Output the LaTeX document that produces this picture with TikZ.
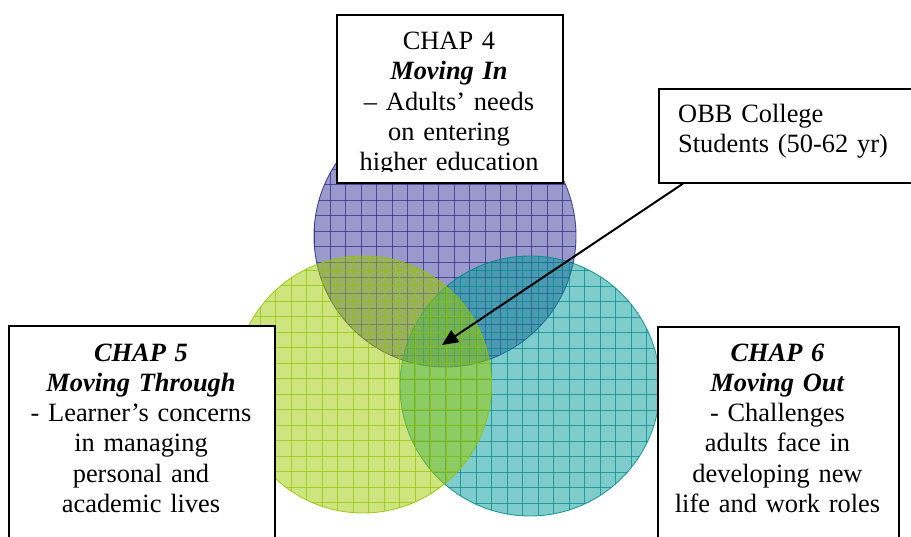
\documentclass[tikz,border=0pt]{standalone}
\usepackage{fontspec}
\setmainfont{Liberation Serif}
\usetikzlibrary{arrows.meta,calc}
\definecolor{topbase}{RGB}{51,51,153}
\definecolor{topline}{RGB}{40,40,130}
\definecolor{grnbase}{RGB}{157,203,0}
\definecolor{grnline}{RGB}{145,195,0}
\definecolor{tealbase}{RGB}{0,153,153}
\definecolor{tealline}{RGB}{0,135,135}
\begin{document}
\begin{tikzpicture}[x=1pt,y=-1pt,
  box/.style={draw=black,line width=1.6pt,fill=white,inner sep=0pt,anchor=north west},
  txt/.style={font=\fontsize{26.4}{30.3}\selectfont,align=center,inner sep=0pt,anchor=base},
  gridline/.style={line width=0.8pt,opacity=0.7},
  edge/.style={line width=0.9pt},
  arrowline/.style={line width=2pt,-{Triangle[length=16pt,width=14pt]}}]
\useasboundingbox (0,0) rectangle (911,536);

% top circle
\begin{scope}
  \clip (445,236) circle[radius=131pt];
  \fill[topbase,opacity=0.5] (445,236) circle[radius=131pt];
  \foreach \k in {-9,...,9} {
    \draw[topline,gridline] (438.5+\k*15.5,90) -- (438.5+\k*15.5,380);
    \draw[topline,gridline] (300,231+\k*15.5) -- (590,231+\k*15.5);
  }
\end{scope}
\draw[topline,edge,opacity=0.8] (445,236) circle[radius=131pt];

% teal circle
\begin{scope}
  \clip (530,386) circle[radius=130pt];
  \fill[tealbase,opacity=0.5] (530,386) circle[radius=130pt];
  \foreach \k in {-9,...,9} {
    \draw[tealline,gridline] (538.3+\k*15.5,240) -- (538.3+\k*15.5,530);
    \draw[tealline,gridline] (390,379.3+\k*15.5) -- (680,379.3+\k*15.5);
  }
\end{scope}
\draw[tealline,edge,opacity=0.8] (530,386) circle[radius=130pt];

% green circle
\begin{scope}
  \clip (363,384.5) circle[radius=128.5pt];
  \fill[grnbase,opacity=0.5] (363,384.5) circle[radius=128.5pt];
  \foreach \k in {-9,...,9} {
    \draw[grnline,gridline] (353+\k*15.5,240) -- (353+\k*15.5,530);
    \draw[grnline,gridline] (220,378.5+\k*15.5) -- (510,378.5+\k*15.5);
  }
\end{scope}
\draw[grnline,edge,opacity=0.8] (363,384.5) circle[radius=128.5pt];

% top box (CHAP 4)
\node[box,minimum width=226pt,minimum height=168pt] (ch4) at (336,14) {};
\begin{scope}
  \clip (336,14) rectangle (562,171);
  \node[txt,text width=224pt] (ch4t) at (449,49.5)
    {CHAP 4\\\textbf{\textit{Moving In}}\\– Adults’ needs\\on entering\\higher education};
\end{scope}

% left box (CHAP 5)
\node[box,minimum width=266pt,minimum height=240pt] (ch5) at (8,325) {};
\node[txt,text width=262pt] (ch5t) at (141,361)
  {\textbf{\textit{CHAP 5}}\\\textbf{\textit{Moving Through}}\\- Learner’s concerns\\in managing\\personal and\\academic lives};

% right box (CHAP 6)
\node[box,minimum width=241pt,minimum height=240pt] (ch6) at (657,326) {};
\node[txt,text width=238pt] (ch6t) at (777.5,361)
  {\textbf{\textit{CHAP 6}}\\\textbf{\textit{Moving Out}}\\- Challenges\\adults face in\\developing new\\life and work roles};

% OBB box
\node[box,minimum width=270pt,minimum height=94pt] (obb) at (658,88) {};
\node[txt,align=left,anchor=base west,text width=230pt] (obbt) at (678,122)
  {OBB College\\Students (50-62 yr)};

% arrow
\coordinate (tip) at (442,345);
\draw[arrowline] ($(obb.south west)+(25,0)$) -- (tip);
\end{tikzpicture}
\end{document}
